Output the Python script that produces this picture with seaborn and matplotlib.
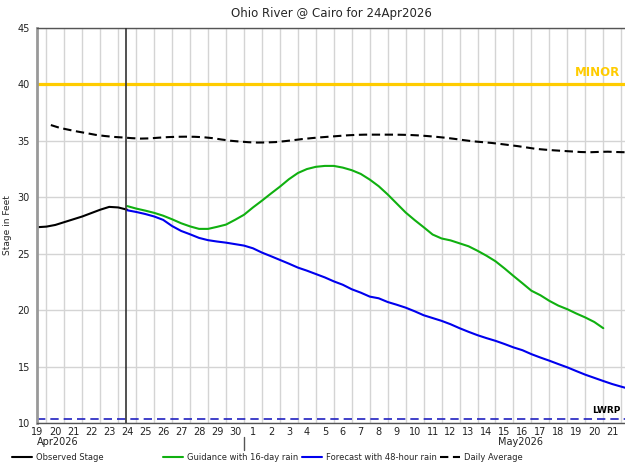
import matplotlib
matplotlib.use("Agg")
import numpy as np
import pandas as pd
import matplotlib.pyplot as plt
import matplotlib.dates as mdates
import seaborn as sns

# Stage values (feet), 12-hourly
OBS_START = "2026-04-19 12:00"
observed = [27.35, 27.4, 27.55, 27.8, 28.05, 28.3, 28.6, 28.9, 29.15, 29.1, 28.9]

GUIDE_START = "2026-04-24 12:00"
guidance = [29.22, 29.0, 28.82, 28.62, 28.37, 28.05, 27.7, 27.42, 27.2, 27.2,
            27.38, 27.58, 28.0, 28.45, 29.1, 29.7, 30.33, 30.94, 31.6, 32.15,
            32.5, 32.7, 32.78, 32.78, 32.63, 32.4, 32.07, 31.57, 30.98, 30.25,
            29.45, 28.65, 27.98, 27.35, 26.7, 26.35, 26.18, 25.92, 25.66, 25.26,
            24.82, 24.33, 23.7, 23.03, 22.38, 21.72, 21.32, 20.82, 20.4, 20.08,
            19.7, 19.35, 18.95, 18.4]

FCST_START = "2026-04-24 12:00"
forecast = [28.85, 28.7, 28.52, 28.3, 28.0, 27.45, 27.02, 26.72, 26.4, 26.2,
            26.08, 25.98, 25.85, 25.72, 25.48, 25.1, 24.78, 24.45, 24.12, 23.77,
            23.5, 23.2, 22.9, 22.55, 22.25, 21.85, 21.55, 21.2, 21.05, 20.72,
            20.48, 20.22, 19.9, 19.55, 19.3, 19.05, 18.75, 18.4, 18.08, 17.78,
            17.52, 17.28, 17.0, 16.7, 16.45, 16.1, 15.8, 15.52, 15.22, 14.93,
            14.6, 14.28, 14.0, 13.72, 13.45, 13.22, 13.0]

AVG_START = "2026-04-20 06:00"
daily_avg = [36.4, 36.15, 35.98, 35.82, 35.68, 35.53, 35.43, 35.35, 35.3, 35.24,
             35.2, 35.22, 35.28, 35.33, 35.36, 35.37, 35.36, 35.32, 35.24, 35.12,
             35.01, 34.94, 34.88, 34.85, 34.86, 34.89, 34.97, 35.06, 35.16, 35.24,
             35.31, 35.37, 35.43, 35.49, 35.53, 35.55, 35.55, 35.55, 35.55, 35.54,
             35.52, 35.48, 35.42, 35.35, 35.27, 35.17, 35.06, 34.96, 34.89, 34.82,
             34.73, 34.63, 34.53, 34.41, 34.29, 34.22, 34.16, 34.11, 34.06, 34.01,
             33.99, 34.02, 34.04, 34.01, 33.99]

MINOR_STAGE = 40
LWRP_STAGE = 10.35
ISSUED = "2026-04-24 11:00"
X_START = "2026-04-19 11:30"
X_END = "2026-05-22 05:00"


def series(start, values):
    return pd.DataFrame({
        "time": pd.date_range(start, periods=len(values), freq="12h"),
        "stage": values,
    })


sns.set_style("white")
plt.rcParams["font.family"] = ["DejaVu Sans"]

fig = plt.figure(figsize=(6.25, 4.62), dpi=100)
ax = fig.add_axes([37 / 625, 1 - 423 / 462, 588 / 625, 395 / 462])

sns.lineplot(data=series(OBS_START, observed), x="time", y="stage", ax=ax,
             color="black", linewidth=1.5, label="Observed Stage")
sns.lineplot(data=series(GUIDE_START, guidance), x="time", y="stage", ax=ax,
             color="#10b010", linewidth=1.5, label="Guidance with 16-day rain")
sns.lineplot(data=series(FCST_START, forecast), x="time", y="stage", ax=ax,
             color="#0000ee", linewidth=1.5, label="Forecast with 48-hour rain")
sns.lineplot(data=series(AVG_START, daily_avg), x="time", y="stage", ax=ax,
             color="black", linewidth=1.5, linestyle=(0, (4, 2.2)), label="Daily Average")

handles, labels = ax.get_legend_handles_labels()
ax.get_legend().remove()

# flood category / low water lines
ax.axhline(MINOR_STAGE, color="#ffcc00", linewidth=2.3, zorder=1)
ax.axhline(LWRP_STAGE, color="#2020c0", linewidth=1.2, linestyle=(0, (5, 3)), zorder=1)
ax.text(0.992, MINOR_STAGE + 0.45, "MINOR", transform=ax.get_yaxis_transform(),
        ha="right", va="bottom", color="#ffcc00", fontsize=8.5, fontweight="bold")
ax.text(0.992, LWRP_STAGE + 0.35, "LWRP", transform=ax.get_yaxis_transform(),
        ha="right", va="bottom", color="black", fontsize=6.5, fontweight="bold")

ax.axvline(pd.Timestamp(ISSUED), color="#333333", linewidth=1.2, zorder=3)

ax.set_xlim(pd.Timestamp(X_START), pd.Timestamp(X_END))
ax.set_ylim(10, 45)
ax.set_yticks(np.arange(10, 46, 5))

ax.xaxis.set_major_locator(mdates.DayLocator())
ax.xaxis.set_major_formatter(plt.NullFormatter())
ax.xaxis.set_minor_locator(mdates.HourLocator(byhour=12))
ax.xaxis.set_minor_formatter(mdates.DateFormatter("%-d"))
ax.tick_params(axis="x", which="major", length=5, width=1, color="#555555")
ax.tick_params(axis="x", which="minor", length=0, pad=3, labelsize=7, labelcolor="#222222")
ax.tick_params(axis="y", length=4, width=1, color="#999999", pad=1, labelsize=7, labelcolor="#222222")

ax.grid(True, which="major", color="#d4d4d4", linewidth=1)
ax.set_axisbelow(True)

for side in ["top", "bottom"]:
    ax.spines[side].set_color("#555555")
    ax.spines[side].set_linewidth(1)
ax.spines["right"].set_visible(False)
ax.spines["left"].set_color("#999999")
ax.spines["left"].set_linewidth(2)

ax.set_xlabel("")
ax.set_ylabel("Stage in Feet", fontsize=6.5, labelpad=4)
ax.set_title("Ohio River @ Cairo for 24Apr2026", fontsize=8.5, pad=8)

# month labels below the day labels
xt = ax.get_xaxis_transform()
ax.text(pd.Timestamp("2026-04-19 12:00"), -0.048, "Apr2026", transform=xt,
        ha="left", va="center", fontsize=7, color="#222222")
ax.text(pd.Timestamp("2026-05-16 10:00"), -0.048, "May2026", transform=xt,
        ha="center", va="center", fontsize=7, color="#222222")
may1 = pd.Timestamp("2026-05-01 00:00")
ax.plot([may1, may1], [-0.035, -0.068], transform=xt, color="#555555",
        linewidth=1, clip_on=False)

# legend entries spread along the bottom
legend_x = [12, 163, 302, 440]
for h, lab, px in zip(handles, labels, legend_x):
    fig.legend([h], [lab], loc="center left", bbox_to_anchor=(px / 625, 1 - 457 / 462),
               frameon=False, fontsize=6.0, handlelength=2.4, handletextpad=0.5,
               borderaxespad=0, borderpad=0)

fig.savefig("out.png", dpi=100)
